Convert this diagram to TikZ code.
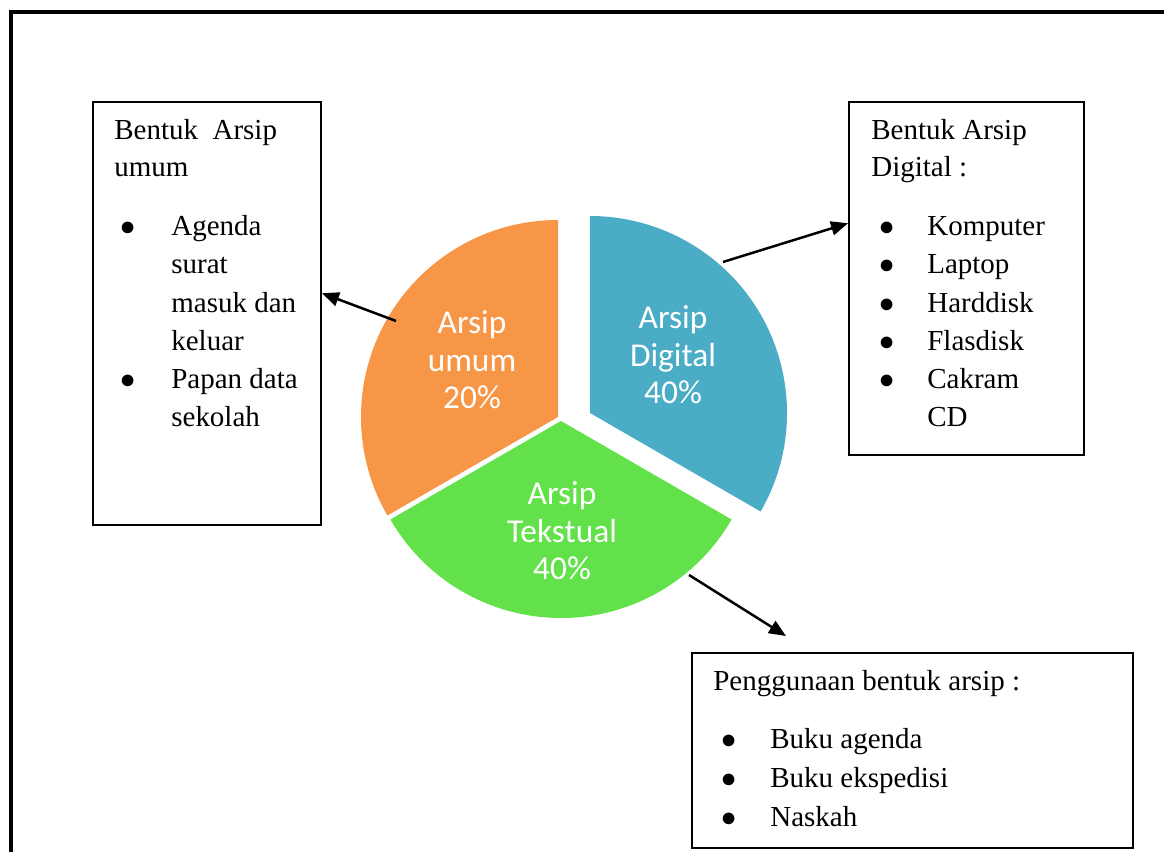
\documentclass[tikz,border=0pt]{standalone}
\usepackage{fontspec}
\setmainfont{Liberation Serif}
\newfontfamily\piefont{Carlito}
\usetikzlibrary{arrows.meta}
\definecolor{umumOrange}{HTML}{F79646}
\definecolor{digitalBlue}{HTML}{4BACC6}
\definecolor{tekstualGreen}{HTML}{63E14B}
\tikzset{
	kotak/.style = {draw, line width=0.04cm, inner sep=0pt},
	baris/.style = {anchor=base west, inner sep=0pt, font=\fontsize{16.5}{21.6}\selectfont},
	titik/.style = {anchor=base, inner sep=0pt, font=\fontsize{16.5}{21.6}\selectfont},
	irisan/.style = {align=center, inner sep=0pt, text=white, font=\piefont\fontsize{19}{21.3}\selectfont},
	panah/.style = {line width=0.05cm, -{Triangle[length=0.34cm, width=0.28cm]}}
}
\begin{document}
\begin{tikzpicture}[x=0.02cm, y=0.02cm]
		\useasboundingbox (0, 0) rectangle (1164, 852);
		\draw[line width=0.07cm] (11, -10) -- (11, 840) -- (1180, 840);
		% pie
		\fill[umumOrange] (558, 435) -- ++(90:197) arc (90:210:197) -- cycle;
		\fill[tekstualGreen] (561, 431) -- ++(210:197) arc (210:330:197) -- cycle;
		\fill[digitalBlue] (590, 439) -- ++(-30:197) arc (-30:90:197) -- cycle;
		\node[irisan] (umumLbl) at (472, 492) {Arsip\\umum\\20\%};
		\node[irisan] (digLbl) at (673, 497) {Arsip\\Digital\\40\%};
		\node[irisan] (tekLbl) at (562, 321) {Arsip\\Tekstual\\40\%};
		% boxes
		\node[kotak, minimum width=4.56cm, minimum height=8.46cm] (umumBox) at (207, 538.5) {};
		\node[kotak, minimum width=4.7cm, minimum height=7.06cm] (digBox) at (966.5, 573.5) {};
		\node[kotak, minimum width=8.82cm, minimum height=3.9cm] (pakaiBox) at (912.5, 101.5) {};
		\node[baris] (umumHead1) at (114, 712) {Bentuk\ \ Arsip};
		\node[baris] (umumHead2) at (114, 675) {umum};
		\foreach \y/\t [count=\i] in {616/Agenda, 578/surat, 539/masuk dan, 501/keluar, 463/Papan data, 425/sekolah}
			\node[baris] (umum\i) at (171, \y) {\t};
		\foreach \y [count=\i] in {616, 463}
			\node[titik] (umumDot\i) at (128, \y) {$\bullet$};
		\node[baris] (digHead1) at (871, 712) {Bentuk Arsip};
		\node[baris] (digHead2) at (871, 675) {Digital :};
		\foreach \y/\t [count=\i] in {616/Komputer, 578/Laptop, 539/Harddisk, 501/Flasdisk, 463/Cakram, 425/CD}
			\node[baris] (dig\i) at (927, \y) {\t};
		\foreach \y [count=\i] in {616, 578, 539, 501, 463}
			\node[titik] (digDot\i) at (887, \y) {$\bullet$};
		\node[baris] (pakaiHead) at (713, 161) {Penggunaan bentuk arsip :};
		\foreach \y/\t [count=\i] in {103/Buku agenda, 64/Buku ekspedisi, 25/Naskah}
		{
			\node[baris] (pakai\i) at (770, \y) {\t};
			\node[titik] (pakaiDot\i) at (729, \y) {$\bullet$};
		}
		% arrows
		\coordinate (umumSrc) at (396, 531);
		\coordinate (digSrc) at (723, 590);
		\coordinate (tekSrc) at (689, 277);
		\coordinate (pakaiTip) at (786, 216);
		\draw[panah] (umumSrc) -- (umumBox.10);
		\draw[panah] (digSrc) -- (digBox.155);
		\draw[panah] (tekSrc) -- (pakaiTip);
	\end{tikzpicture}
\end{document}
